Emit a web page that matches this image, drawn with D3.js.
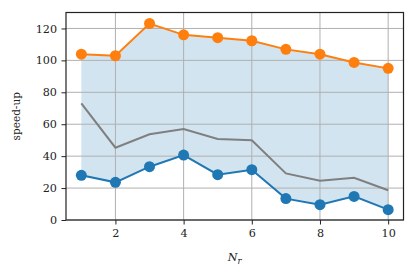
<!DOCTYPE html>
<html>
<head>
<meta charset="utf-8">
<script src="https://cdn.jsdelivr.net/npm/d3@7"></script>
<style>
  body { margin: 0; background: #fff; }
</style>
</head>
<body>
<div id="vis"></div>
<script>
const margin = { top: 12.5, right: 12.5, bottom: 56, left: 66 };
const W = 416, H = 276;
const serif = "'DejaVu Serif', serif";

// data
const nr = [1, 2, 3, 4, 5, 6, 7, 8, 9, 10];
const upper = [103.9, 102.9, 123.1, 116.0, 114.2, 112.3, 106.9, 103.9, 98.7, 95.0];
const middle = [73.1, 45.3, 53.7, 57.0, 50.7, 49.9, 29.2, 24.6, 26.5, 18.6];
const lower = [28.0, 23.6, 33.4, 40.7, 28.4, 31.5, 13.4, 9.6, 14.8, 6.5];
const xTicks = [2, 4, 6, 8, 10];
const yTicks = [0, 20, 40, 60, 80, 100, 120];

const width = W - margin.left - margin.right;
const height = H - margin.top - margin.bottom;

const $svg = d3.select('#vis').append('svg')
  .attr('width', W)
  .attr('height', H)
  .attr('font-family', serif);

const $plot = $svg.append('g')
  .attr('transform', `translate(${margin.left}, ${margin.top})`);

const x = d3.scaleLinear().domain([0.55, 10.45]).range([0, width]);
const y = d3.scaleLinear().domain([0, 130]).range([height, 0]);

const rows = nr.map((n, i) => ({ n, hi: upper[i], mid: middle[i], lo: lower[i] }));

// band between the two marked series
$plot.append('path')
  .datum(rows)
  .attr('fill', '#1f77b4')
  .attr('fill-opacity', 0.2)
  .attr('d', d3.area().x(d => x(d.n)).y0(d => y(d.lo)).y1(d => y(d.hi)));

// grid
$plot.append('g')
  .selectAll('line')
  .data(xTicks)
  .join('line')
  .attr('x1', d => x(d)).attr('x2', d => x(d))
  .attr('y1', 0).attr('y2', height)
  .attr('stroke', '#b0b0b0').attr('stroke-width', 1);

$plot.append('g')
  .selectAll('line')
  .data(yTicks)
  .join('line')
  .attr('x1', 0).attr('x2', width)
  .attr('y1', d => y(d)).attr('y2', d => y(d))
  .attr('stroke', '#b0b0b0').attr('stroke-width', 1);

// axes
const xAxis = d3.axisBottom(x).tickValues(xTicks).tickSize(4.5).tickPadding(5);
const yAxis = d3.axisLeft(y).tickValues(yTicks).tickSize(4.5).tickPadding(4.5);

const styleTicks = g => {
  g.select('.domain').remove();
  g.attr('font-family', serif);
  g.selectAll('text')
    .attr('font-family', serif)
    .attr('font-size', 11.2)
    .attr('fill', '#222');
};

$plot.append('g')
  .attr('class', 'axis x')
  .attr('transform', `translate(0, ${height})`)
  .call(xAxis)
  .call(styleTicks);

$plot.append('g')
  .attr('class', 'axis y')
  .call(yAxis)
  .call(styleTicks);

$plot.selectAll('.tick line').attr('stroke', '#222').attr('stroke-width', 1);

// lines
const line = key => d3.line().x(d => x(d.n)).y(d => y(d[key]));

$plot.append('path')
  .datum(rows)
  .attr('fill', 'none')
  .attr('stroke', '#7f7f7f')
  .attr('stroke-width', 2)
  .attr('d', line('mid'));

[['lo', '#1f77b4'], ['hi', '#ff7f0e']].forEach(([key, col]) => {
  $plot.append('path')
    .datum(rows)
    .attr('fill', 'none')
    .attr('stroke', col)
    .attr('stroke-width', 2)
    .attr('d', line(key));

  $plot.append('g')
    .selectAll('circle')
    .data(rows)
    .join('circle')
    .attr('cx', d => x(d.n))
    .attr('cy', d => y(d[key]))
    .attr('r', 5.5)
    .attr('fill', col);
});

// frame
$plot.append('rect')
  .attr('width', width).attr('height', height)
  .attr('fill', 'none')
  .attr('stroke', '#222')
  .attr('stroke-width', 1.2);

// labels
const xl = $svg.append('text')
  .attr('x', margin.left + width / 2)
  .attr('y', 261)
  .attr('text-anchor', 'middle')
  .attr('font-family', serif)
  .attr('font-size', 11.2)
  .attr('fill', '#222');
xl.append('tspan').attr('font-style', 'italic').text('N');
xl.append('tspan').attr('font-style', 'italic').attr('font-size', 8.5).attr('dy', 3).text('r');

$svg.append('text')
  .attr('transform', `translate(20, ${margin.top + height / 2}) rotate(-90)`)
  .attr('text-anchor', 'middle')
  .attr('font-family', serif)
  .attr('font-size', 10.5)
  .attr('fill', '#222')
  .text('speed-up');
</script>
</body>
</html>
